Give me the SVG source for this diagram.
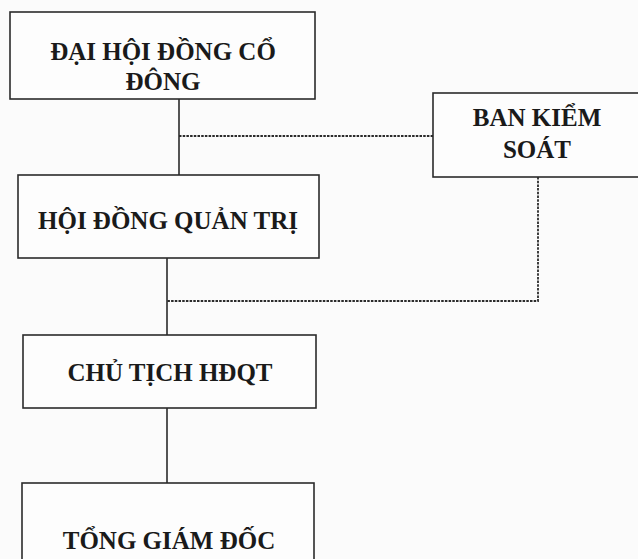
<svg xmlns="http://www.w3.org/2000/svg" width="638" height="559" viewBox="0 0 638 559">
<style>
.box{fill:#fdfdfd;stroke:#2b2b2b;stroke-width:1.6}
.t{font-family:"Liberation Serif","Times New Roman",serif;font-weight:bold;font-size:25px;fill:#1a1a1a;text-anchor:middle}
.solid{stroke:#2b2b2b;stroke-width:1.6;fill:none}
.dash{stroke:#2b2b2b;stroke-width:1.8;fill:none;stroke-dasharray:2.5 1.2}
</style>
<rect width="638" height="559" fill="#fbfbfb"/>
<g id="connectors">
<path class="solid" d="M179 99 V175"/>
<path class="dash" d="M179 136 H433"/>
<path class="dash" d="M538 177 V301 H167"/>
<path class="solid" d="M167 258 V335"/>
<path class="solid" d="M167 408 V483"/>
</g>
<g id="dhdcd">
<rect class="box" x="10" y="12" width="305" height="87"/>
<text class="t" x="163" y="60">ĐẠI HỘI ĐỒNG CỔ</text>
<text class="t" x="163" y="90">ĐÔNG</text>
</g>
<g id="bks">
<rect class="box" x="433" y="93" width="210" height="84"/>
<text class="t" x="537" y="126">BAN KIỂM</text>
<text class="t" x="537" y="158">SOÁT</text>
</g>
<g id="hdqt">
<rect class="box" x="18" y="175" width="301" height="83"/>
<text class="t" x="168" y="229">HỘI ĐỒNG QUẢN TRỊ</text>
</g>
<g id="cthdqt">
<rect class="box" x="23" y="335" width="293" height="73"/>
<text class="t" x="170" y="381">CHỦ TỊCH HĐQT</text>
</g>
<g id="tgd">
<rect class="box" x="22" y="483" width="292" height="90"/>
<text class="t" x="169" y="549">TỔNG GIÁM ĐỐC</text>
</g>
</svg>
